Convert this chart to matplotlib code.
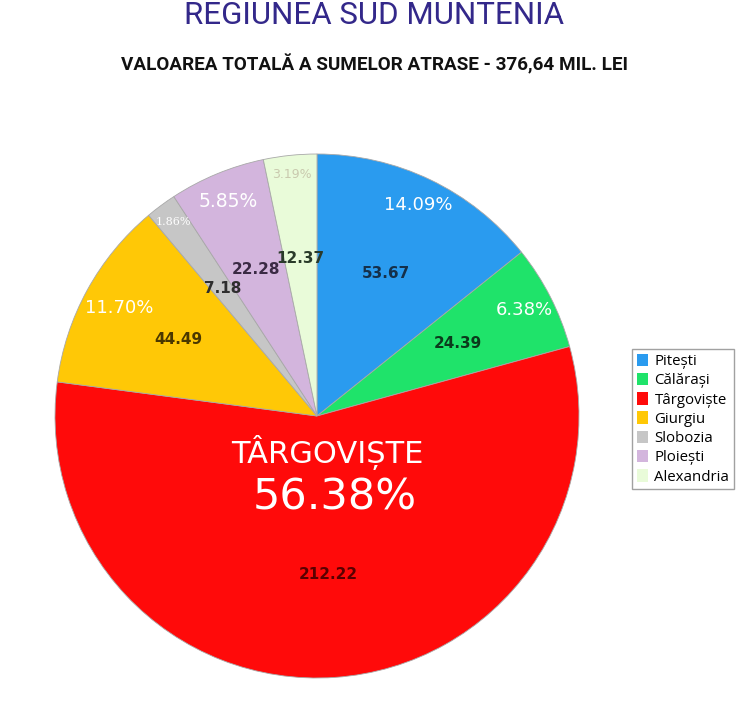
import numpy as np
import matplotlib
matplotlib.use("Agg")
import matplotlib.pyplot as plt

# ---- data ----
cities = ["Pitești", "Călărași", "Târgoviște", "Giurgiu", "Slobozia", "Ploiești", "Alexandria"]
values = [53.67, 24.39, 212.22, 44.49, 7.18, 22.28, 12.37]
pct_labels = ["14.09%", "6.38%", "56.38%", "11.70%", "1.86%", "5.85%", "3.19%"]
value_labels = ["53.67", "24.39", "212.22", "44.49", "7.18", "22.28", "12.37"]
title = "REGIUNEA SUD MUNTENIA"
subtitle = "VALOAREA TOTALĂ A SUMELOR ATRASE - 376,64 MIL. LEI"
highlight_name = "TÂRGOVIȘTE"

# ---- style ----
colors = ["#2A9BEF", "#1FE36A", "#FF0A0A", "#FFC806", "#C6C6C6", "#D3B5DD", "#E9FBD9"]
val_colors = ["#15304a", "#0b3a1c", "#5a0000", "#4a3800", "#2e2e2e", "#3a2a44", "#2a3a2a"]
pct_colors = ["white", "white", "white", "white", "white", "white", "#c9c9ae"]
pct_sizes = [13, 13, 13, 13, 8, 13.5, 9]
pct_radius = [0.895, 0.89, 0.0, 0.86, 0.92, 0.885, 0.925]
pct_family = ["DejaVu Sans"] * 4 + ["DejaVu Serif"] + ["DejaVu Sans"] * 2

fig = plt.figure(figsize=(7.5, 7.05), dpi=100)
fig.patch.set_facecolor("white")

R = 262
cx, cy = 317, 416
W, H = 750, 705
ax = fig.add_axes([(cx - R) / W, (H - cy - R) / H, 2 * R / W, 2 * R / H])
wedges, _ = ax.pie(values, colors=colors, startangle=90, counterclock=False,
                   radius=1.0, wedgeprops=dict(edgecolor="#a8a8a8", linewidth=0.6))
ax.set_xlim(-1, 1)
ax.set_ylim(-1, 1)
ax.set_aspect("equal")
ax.axis("off")

big_idx = int(np.argmax(values))
for i, w in enumerate(wedges):
    mid = np.deg2rad((w.theta1 + w.theta2) / 2)
    ux, uy = np.cos(mid), np.sin(mid)
    ax.text(0.605 * ux, 0.605 * uy, value_labels[i], ha="center", va="center",
            fontsize=11, fontweight="bold", color=val_colors[i])
    if i == big_idx:
        ax.text(0.14 * ux + 0.03, 0.14 * uy, highlight_name, ha="center", va="center",
                fontsize=22, color="white")
        ax.text(0.31 * ux + 0.045, 0.31 * uy, pct_labels[i], ha="center", va="center",
                fontsize=31, color="white")
    else:
        r = pct_radius[i]
        ax.text(r * ux, r * uy, pct_labels[i], ha="center", va="center",
                fontsize=pct_sizes[i], color=pct_colors[i], family=pct_family[i])

fig.text(0.499, 1 - 15 / H, title, ha="center", va="center", fontsize=22.5,
         color="#33288a", family=["Roboto", "DejaVu Sans"])
fig.text(0.499, 1 - 64 / H, subtitle, ha="center", va="center", fontsize=13.6,
         fontweight="bold", color="#111111",
         family=["Roboto", "DejaVu Sans"])

leg = fig.legend(wedges, cities, loc="upper left",
                 bbox_to_anchor=(632 / W, 1 - 349 / H), frameon=True,
                 fancybox=False, edgecolor="#8a8a8a", borderaxespad=0.0,
                 handlelength=0.75, handleheight=0.9, handletextpad=0.45,
                 labelspacing=0.26, borderpad=0.3, prop={"family": "Open Sans", "size": 10.8})
leg.get_frame().set_linewidth(1.0)
for h in leg.legend_handles:
    h.set_edgecolor("none")

fig.savefig("out.png", dpi=100, facecolor="white")
